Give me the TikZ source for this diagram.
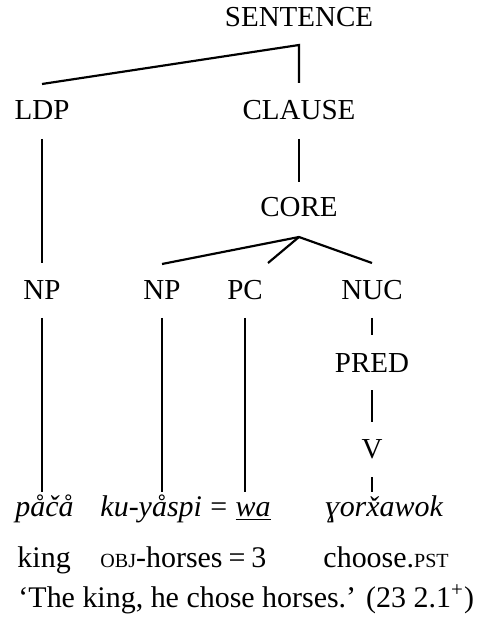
\documentclass[tikz,border=0pt]{standalone}
\usepackage{fontspec}
\setmainfont{Liberation Serif}
\usetikzlibrary{calc}
\newcommand{\fsc}[1]{{\fontsize{8.3}{10}\selectfont #1}}
\begin{document}
\begin{tikzpicture}[x=0.414pt,y=-0.414pt,
  cat/.style={anchor=base,inner sep=0pt,font=\fontsize{12}{14}\selectfont},
  word/.style={anchor=base west,inner sep=0pt,font=\fontsize{12.4}{14}\selectfont},
  branch/.style={line width=0.9pt,line cap=butt,line join=miter}]
\useasboundingbox (0,0) rectangle (476,629);

% category labels
\node[cat] (S)    at (299,27)  {SENTENCE};
\node[cat] (LDP)  at (42,120)  {LDP};
\node[cat] (CL)   at (299,120) {CLAUSE};
\node[cat] (CORE) at (299,217) {CORE};
\node[cat] (NPa)  at (42,300)  {NP};
\node[cat] (NPb)  at (162,300) {NP};
\node[cat] (PC)   at (245,300) {PC};
\node[cat] (NUC)  at (372,300) {NUC};
\node[cat] (PRED) at (372,372) {PRED};
\node[cat] (V)    at (372,458) {V};

% words, glosses and translation
\node[word] (w1) at (15,516)  {\textit{påčå}};
\node[word] (w2) at (100,516) {\textit{ku-yåspi}\hspace{0.28em}=\hspace{0.28em}\textit{\underline{wa}}};
\node[word] (w3) at (325,516) {\textit{ɣorx̌awok}};
\node[word] (g1) at (17,567)  {king};
\node[word] (g2) at (100,567) {\fsc{OBJ}-horses\hspace{0.2em}=\hspace{0.2em}3};
\node[word] (g3) at (323,567) {choose.\fsc{PST}};
\node[word] (tr) at (18,607)  {‘The king, he chose horses.’ (23 2.1\textsuperscript{+})};

% apexes
\coordinate (sApex) at ($(S.base)+(0,18)$);
\coordinate (cApex) at ($(CORE.base)+(0,20)$);

% branches
\draw[branch] ($(LDP.base)+(0,-36)$) -- (sApex) -- ($(CL.base)+(0,-37)$);
\draw[branch] ($(LDP.base)+(0,19)$) -- ($(NPa.base)+(0,-37)$);
\draw[branch] ($(CL.base)+(0,19)$) -- ($(CORE.base)+(0,-35)$);
\draw[branch] ($(NPb.base)+(0,-36)$) -- (cApex) -- ($(NUC.base)+(0,-37)$);
\draw[branch] (cApex) -- ($(PC.base)+(23,-37)$);
\draw[branch] ($(NPa.base)+(0,18)$) -- ($(NPa.base |- w1.base)+(0,-24)$);
\draw[branch] ($(NPb.base)+(0,18)$) -- ($(NPb.base |- w2.base)+(0,-24)$);
\draw[branch] ($(PC.base)+(0,18)$) -- ($(PC.base |- w2.base)+(0,-24)$);
\draw[branch] ($(NUC.base)+(0,18)$) -- ($(PRED.base)+(0,-37)$);
\draw[branch] ($(PRED.base)+(0,18)$) -- ($(V.base)+(0,-36)$);
\draw[branch] ($(V.base)+(0,19)$) -- ($(V.base |- w3.base)+(0,-24)$);
\end{tikzpicture}
\end{document}
